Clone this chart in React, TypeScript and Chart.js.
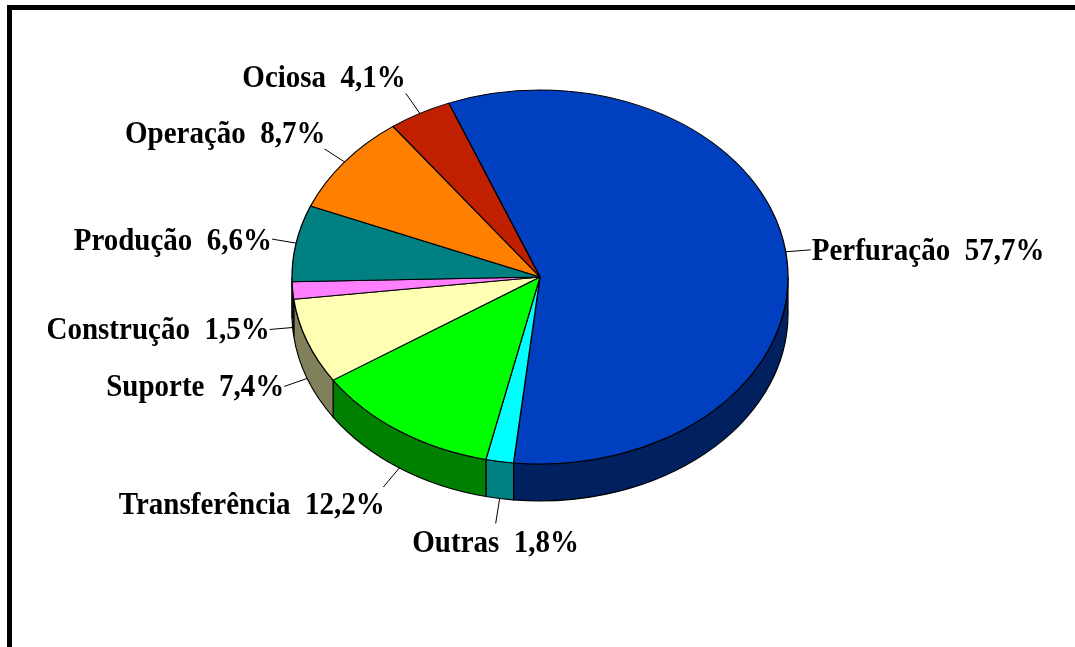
import React, { useEffect, useRef } from "react";
import { Chart, registerables } from "chart.js";

Chart.register(...registerables);

const categories = [
  "Perfuração",
  "Outras",
  "Transferência",
  "Suporte",
  "Construção",
  "Produção",
  "Operação",
  "Ociosa",
];
const shares = [57.7, 1.8, 12.2, 7.4, 1.5, 6.6, 8.7, 4.1];
const faceColors = ["#0040C0", "#00FFFF", "#00FF00", "#FFFFB3", "#FF80FF", "#008080", "#FF8000", "#C02000"];
const sideColors = ["#002060", "#008080", "#008000", "#80805A", "#804080", "#004040", "#804000", "#601000"];

// label placement (leader-line end relative to slice edge; text relative to line end)
const lineOffsets = [
  [25, -2],
  [-4, 25],
  [-16, 19],
  [-23, 8],
  [-23, 2],
  [-24, -4],
  [-20, -13],
  [-14, -20],
];
const textOffsets: [number, number, CanvasTextAlign][] = [
  [1, 10, "left"],
  [0, 28, "center"],
  [1.5, 27, "right"],
  [0, 10, "right"],
  [0, 10, "right"],
  [0, 11, "right"],
  [1, -6, "right"],
  [0, -6, "right"],
];

const SQUASH = 0.754;
const DEPTH = 37;

const pie3d = {
  id: "pie3d",
  beforeDatasetsDraw(chart: any) {
    const meta = chart.getDatasetMeta(0);
    const arcs = meta.data;
    if (!arcs.length) return;
    const ctx = chart.ctx;
    const cx = arcs[0].x;
    const cy = arcs[0].y;
    const r = arcs[0].outerRadius;
    ctx.save();
    ctx.lineWidth = 1.2;
    ctx.strokeStyle = "#000";
    arcs.forEach((arc: any, i: number) => {
      for (const shift of [-2 * Math.PI, 0, 2 * Math.PI]) {
        const s = arc.startAngle + shift;
        const e = arc.endAngle + shift;
        const a0 = Math.max(s, 0);
        const a1 = Math.min(e, Math.PI);
        if (a1 <= a0) continue;
        ctx.beginPath();
        ctx.ellipse(cx, cy, r, r * SQUASH, 0, a0, a1, false);
        ctx.ellipse(cx, cy + DEPTH, r, r * SQUASH, 0, a1, a0, true);
        ctx.closePath();
        ctx.fillStyle = sideColors[i];
        ctx.fill();
        ctx.stroke();
      }
    });
    ctx.restore();
    ctx.save();
    ctx.translate(cx, cy);
    ctx.scale(1, SQUASH);
    ctx.translate(-cx, -cy);
  },
  afterDatasetsDraw(chart: any) {
    const ctx = chart.ctx;
    ctx.restore();
    const meta = chart.getDatasetMeta(0);
    const arcs = meta.data;
    if (!arcs.length) return;
    const cx = arcs[0].x;
    const cy = arcs[0].y;
    const r = arcs[0].outerRadius;
    ctx.save();
    ctx.font = 'bold 29px "Liberation Serif", "Times New Roman", serif';
    ctx.fillStyle = "#000";
    ctx.strokeStyle = "#000";
    ctx.lineWidth = 1;
    arcs.forEach((arc: any, i: number) => {
      const mid = (arc.startAngle + arc.endAngle) / 2;
      const sn = Math.sin(mid);
      const ax = cx + r * Math.cos(mid);
      const ay = cy + r * SQUASH * sn + (sn > 0 ? DEPTH : 0);
      const lx = ax + lineOffsets[i][0];
      const ly = ay + lineOffsets[i][1];
      ctx.beginPath();
      ctx.moveTo(ax, ay);
      ctx.lineTo(lx, ly);
      ctx.stroke();
      const [tx, ty, align] = textOffsets[i];
      ctx.textAlign = align;
      ctx.textBaseline = "alphabetic";
      const txt = `${categories[i]}  ${shares[i].toFixed(1).replace(".", ",")}%`;
      ctx.save();
      ctx.translate(lx + tx, ly + ty);
      ctx.scale(1, 1.08);
      ctx.fillText(txt, 0, 0);
      ctx.restore();
    });
    ctx.restore();
  },
};

export default function App() {
  const ref = useRef<HTMLCanvasElement | null>(null);
  useEffect(() => {
    if (!ref.current) return;
    const chart = new Chart(ref.current, {
      type: "pie",
      data: {
        labels: categories,
        datasets: [
          {
            data: shares,
            backgroundColor: faceColors,
            borderColor: "#000",
            borderWidth: 1.3,
            clip: false,
          } as any,
        ],
      },
      options: {
        responsive: false,
        animation: false,
        rotation: -21.6,
        radius: 248,
        layout: { padding: { left: 5, right: 0, top: 0, bottom: 93 } },
        plugins: {
          legend: { display: false },
          tooltip: { enabled: false },
        },
      } as any,
      plugins: [pie3d],
    });
    return () => chart.destroy();
  }, []);
  return (
    <div style={{ position: "absolute", left: 0, top: 0, width: 1075, height: 647, background: "#fff" }}>
      <div
        style={{
          position: "absolute",
          left: 7,
          top: 5,
          width: 1068,
          height: 642,
          borderTop: "5px solid #000",
          borderLeft: "5px solid #000",
          boxSizing: "border-box",
        }}
      />
      <canvas ref={ref} width={1075} height={647} style={{ position: "absolute", left: 0, top: 0 }} />
    </div>
  );
}
